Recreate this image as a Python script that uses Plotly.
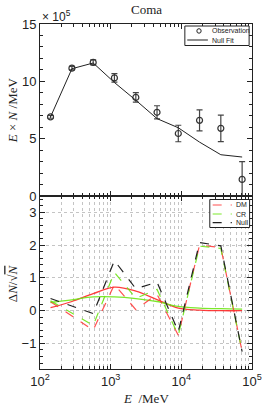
import plotly.graph_objects as go

# ---- data ----
energy = [141, 283, 566, 1130, 2270, 4530, 9060, 18100, 36200, 72500]
obs = [6.9, 11.15, 11.65, 10.3, 8.6, 7.3, 5.45, 6.6, 5.9, 1.45]
obs_err = [0.12, 0.15, 0.22, 0.37, 0.42, 0.57, 0.72, 0.92, 1.15, 1.55]
null_fit = [6.9, 11.1, 11.6, 9.9, 8.35, 6.75, 5.95, 4.7, 3.6, 3.4]

res_dm = [0.27, -0.17, -0.59, 0.8, 0.03, 0.5, -0.75, 2.0, 1.93, -1.25]
res_cr = [0.3, -0.08, -0.45, 1.17, 0.38, 0.65, -0.75, 1.97, 1.9, -1.25]
res_null = [0.37, 0.15, -0.09, 1.53, 0.67, 0.87, -0.64, 2.08, 1.98, -1.25]
frac_dm = [0.09, 0.28, 0.52, 0.72, 0.6, 0.34, 0.08, 0.02, 0.0, 0.0]
frac_cr = [0.25, 0.33, 0.42, 0.42, 0.37, 0.28, 0.13, 0.08, 0.06, 0.05]

xticks = [100, 1000, 10000, 100000]
xticktext = ["10<sup>2</sup>", "10<sup>3</sup>", "10<sup>4</sup>", "10<sup>5</sup>"]

RED = "rgba(255,50,50,0.85)"
GREEN = "rgba(110,230,20,0.9)"
BLACK = "#222222"
GRID = "#c4c4c4"
SANS = "Liberation Sans, Arial, sans-serif"
SERIF = "Liberation Serif, serif"

# plot-area geometry in pixels (for legend placement)
W, H = 274, 408
L, R, T, B = 40, 13, 24, 39
PW, PH = W - L - R, H - T - B


def px(x):
    return (x - L) / PW


def py(y):
    return (H - B - y) / PH


fig = go.Figure()

# top panel
fig.add_trace(go.Scatter(
    x=energy, y=obs, mode="markers", name="Observation", showlegend=False,
    marker=dict(symbol="circle-open", size=6, color="#333333", line=dict(width=1.2)),
    error_y=dict(type="data", array=obs_err, color="#444444", thickness=1.2, width=3),
    xaxis="x", yaxis="y"))
fig.add_trace(go.Scatter(
    x=energy, y=null_fit, mode="lines", name="Null Fit", showlegend=False,
    line=dict(color=BLACK, width=1), xaxis="x", yaxis="y"))

# bottom panel
fig.add_trace(go.Scatter(x=energy, y=frac_dm, mode="lines", showlegend=False,
                         line=dict(color="rgba(255,40,40,0.9)", width=1.3, shape="spline"),
                         xaxis="x2", yaxis="y2"))
fig.add_trace(go.Scatter(x=energy, y=frac_cr, mode="lines", showlegend=False,
                         line=dict(color=GREEN, width=1.3, shape="spline"),
                         xaxis="x2", yaxis="y2"))
fig.add_trace(go.Scatter(x=energy, y=res_dm, mode="lines", name="DM", showlegend=False,
                         line=dict(color=RED, width=1.2, dash="dash"),
                         xaxis="x2", yaxis="y2"))
fig.add_trace(go.Scatter(x=energy, y=res_cr, mode="lines", name="CR", showlegend=False,
                         line=dict(color=GREEN, width=1.2, dash="dash"),
                         xaxis="x2", yaxis="y2"))
fig.add_trace(go.Scatter(x=energy, y=res_null, mode="lines", name="Null", showlegend=False,
                         line=dict(color=BLACK, width=1.2, dash="dash"),
                         xaxis="x2", yaxis="y2"))

tickfont = dict(family=SANS, size=13, color="#222")
split = 0.5014

common_x = dict(type="log", range=[2, 5], tickmode="array", tickvals=xticks,
                ticks="inside", ticklen=5, tickcolor="#222", showline=True,
                linecolor="#222", linewidth=1, mirror="allticks", zeroline=False)

shapes = []
annots = []

# custom legend, top panel
shapes.append(dict(type="rect", xref="paper", yref="paper",
                   x0=px(191), x1=px(258), y0=py(45.5), y1=py(26),
                   line=dict(color="#222", width=1), fillcolor="white", layer="above"))
shapes.append(dict(type="circle", xref="paper", yref="paper",
                   x0=px(203.5), x1=px(208), y0=py(33.2), y1=py(28.7),
                   line=dict(color="#222", width=1), layer="above"))
shapes.append(dict(type="line", xref="paper", yref="paper",
                   x0=px(193.5), x1=px(215), y0=py(40), y1=py(40),
                   line=dict(color="#444", width=1.2), layer="above"))
for label, yy in (("Observation", 31), ("Null Fit", 40)):
    annots.append(dict(text=label, x=px(217), y=py(yy), xref="paper", yref="paper",
                       xanchor="left", yanchor="middle", showarrow=False,
                       font=dict(family=SANS, size=7, color="#222")))

# custom legend, bottom panel
shapes.append(dict(type="rect", xref="paper", yref="paper",
                   x0=px(217), x1=px(258.5), y0=py(227.5), y1=py(199.5),
                   line=dict(color="#222", width=1), fillcolor="white", layer="above"))
for label, col, yy in (("DM", RED, 205), ("CR", GREEN, 214), ("Null", BLACK, 222.7)):
    shapes.append(dict(type="line", xref="paper", yref="paper",
                       x0=px(220), x1=px(240), y0=py(yy), y1=py(yy),
                       line=dict(color=col, width=1.2, dash="dash"), layer="above"))
    annots.append(dict(text=label, x=px(242), y=py(yy), xref="paper", yref="paper",
                       xanchor="left", yanchor="middle", showarrow=False,
                       font=dict(family=SANS, size=7, color="#222")))

annots += [
    dict(text="Coma", x=0.5, y=1, xref="paper", yref="paper", yshift=5,
         xanchor="center", yanchor="bottom", showarrow=False,
         font=dict(family=SERIF, size=13, color="#222")),
    dict(text="\u00d7 10<sup>5</sup>", x=0, y=1, xref="paper", yref="paper",
         xanchor="left", yanchor="bottom", showarrow=False, yshift=-2,
         font=dict(family=SANS, size=12, color="#222")),
    dict(text="<i>E</i> \u00d7 <i>N</i> /MeV", x=px(11), y=py(110), xref="paper", yref="paper",
         textangle=-90, xanchor="center", yanchor="middle", showarrow=False,
         font=dict(family=SERIF, size=13, color="#222")),
    dict(text="\u0394<i>N</i>/\u221a<span style='text-decoration:overline'><i>N</i></span>",
         x=px(11), y=py(283), xref="paper", yref="paper",
         textangle=-90, xanchor="center", yanchor="middle", showarrow=False,
         font=dict(family=SERIF, size=13, color="#222")),
    dict(text="<i>E</i>  /MeV", x=px(150), y=py(398), xref="paper", yref="paper",
         xanchor="center", yanchor="middle", showarrow=False,
         font=dict(family=SERIF, size=13, color="#222")),
]

fig.update_layout(
    width=W, height=H,
    margin=dict(l=L, r=R, t=T, b=B),
    paper_bgcolor="white", plot_bgcolor="white",
    showlegend=False,
    xaxis=dict(**common_x, anchor="y", showticklabels=False, showgrid=False,
               minor=dict(dtick="D1", ticks="inside", ticklen=3, tickcolor="#222",
                          showgrid=False)),
    yaxis=dict(domain=[split, 1], range=[0, 15], tickvals=[0, 5, 10, 15],
               ticks="inside", ticklen=5, tickcolor="#222", showline=True,
               linecolor="#222", linewidth=1, mirror="allticks", showgrid=False,
               zeroline=False, tickfont=tickfont,
               minor=dict(dtick=1, ticks="inside", ticklen=3, tickcolor="#222")),
    xaxis2=dict(**common_x, anchor="y2", tickfont=tickfont, ticktext=xticktext,
                showgrid=True, gridcolor=GRID, griddash="dot", gridwidth=1,
                minor=dict(dtick="D1", ticks="inside", ticklen=3, tickcolor="#222",
                           showgrid=True, gridcolor=GRID, griddash="dot",
                           gridwidth=1)),
    yaxis2=dict(domain=[0, split], range=[-1.78, 3.5], tickvals=[-1, 0, 1, 2, 3],
                ticktext=["\u22121", "0", "1", "2", "3"],
                ticks="inside", ticklen=5, tickcolor="#222", showline=True,
                linecolor="#222", linewidth=1, mirror="allticks",
                showgrid=True, gridcolor=GRID, griddash="dot", gridwidth=1,
                zeroline=False, tickfont=tickfont,
                minor=dict(dtick=0.2, ticks="inside", ticklen=3, tickcolor="#222")),
    shapes=shapes,
    annotations=annots,
)

fig.write_html("out.html",
               config={"displayModeBar": False},
               post_script="document.body.style.margin='0';"
                           "document.body.style.overflow='hidden';")
